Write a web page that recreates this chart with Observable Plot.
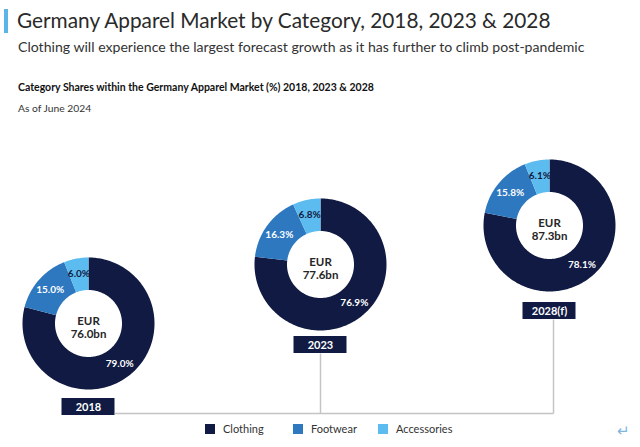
<!DOCTYPE html>
<html><head><meta charset="utf-8">
<script src="https://cdn.jsdelivr.net/npm/d3@7"></script>
<script src="https://cdn.jsdelivr.net/npm/@observablehq/plot@0.6"></script>
<style>
body{margin:0;background:#fff;font-family:Lato,"Open Sans",sans-serif;width:640px;height:447px;overflow:hidden;position:relative;color:#262626}
.abs{position:absolute;white-space:nowrap}
#bar{left:4px;top:9px;width:4px;height:24px;background:#5bb5e8}
#title{left:17px;top:5px;font-size:20.8px;line-height:30px;color:#2a2a2a}
#subtitle{left:18px;top:37px;font-size:14.1px;line-height:20px;color:#333}
#cap1{left:18px;top:79px;font-size:10.5px;font-weight:bold;line-height:16px;color:#111}
#cap2{left:18px;top:100px;font-size:10.3px;line-height:16px;color:#333}
#chart{left:0;top:150px}
#legend{left:0;top:421px;width:640px;height:16px;font-size:11px;color:#333}
.sw{position:absolute;top:3px;width:10px;height:10px}
.lt{position:absolute;top:0;line-height:16px}
#ret{left:617px;top:421px;font-size:15px;color:#7fb6e0}
</style></head><body>
<div class="abs" id="bar"></div>
<div class="abs" id="title">Germany Apparel Market by Category, 2018, 2023 &amp; 2028</div>
<div class="abs" id="subtitle">Clothing will experience the largest forecast growth as it has further to climb post-pandemic</div>
<div class="abs" id="cap1">Category Shares within the Germany Apparel Market (%) 2018, 2023 &amp; 2028</div>
<div class="abs" id="cap2">As of June 2024</div>
<div class="abs" id="chart"></div>
<div class="abs" id="legend"></div>
<div class="abs" id="ret">↵</div>
<script>
// ---- data ----
const years = ["2018", "2023", "2028(f)"];
const totals = ["76.0", "77.6", "87.3"]; // EUR bn
const categories = ["Clothing", "Footwear", "Accessories"];
const clothing = [79.0, 76.9, 78.1];
const footwear = [15.0, 16.3, 15.8];
const accessories = [6.0, 6.8, 6.1];

// ---- styles / layout ----
const colors = ["#101a42", "#2e78c0", "#5cbcf0"];
const W = 640, H = 270;
const layout = [
  {cx: 88, cy: 173, box: 248},
  {cx: 320, cy: 114, box: 186},
  {cx: 549, cy: 75, box: 152}
];
const R = 66, r0 = 33.5, rLab = 51, boxW = 53, boxH = 17;
const lineY = 263;

const series = [clothing, footwear, accessories];
const pie = d3.pie().sort(null).startAngle(0).endAngle(2 * Math.PI);

const slices = [];
const polys = [];
years.forEach((yr, i) => {
  const vals = categories.map((c, k) => ({cat: c, v: series[k][i]}));
  const arcs = pie.value(d => d.v)(vals);
  const {cx, cy} = layout[i];
  arcs.forEach(a => {
    const key = yr + "|" + a.data.cat;
    const n = Math.max(4, Math.ceil((a.endAngle - a.startAngle) / 0.02));
    const pts = [];
    for (let j = 0; j <= n; j++) {
      const t = a.startAngle + (a.endAngle - a.startAngle) * j / n;
      pts.push({x: cx + R * Math.sin(t), y: cy - R * Math.cos(t)});
    }
    for (let j = n; j >= 0; j--) {
      const t = a.startAngle + (a.endAngle - a.startAngle) * j / n;
      pts.push({x: cx + r0 * Math.sin(t), y: cy - r0 * Math.cos(t)});
    }
    pts.forEach(p => polys.push({...p, key, cat: a.data.cat}));
    const m = (a.startAngle + a.endAngle) / 2;
    slices.push({
      cat: a.data.cat, v: a.data.v,
      x: cx + rLab * Math.sin(m), y: cy - rLab * Math.cos(m)
    });
  });
});

const centers = years.map((yr, i) => ({
  year: yr, total: totals[i], x: layout[i].cx, y: layout[i].cy, box: layout[i].box
}));

const links = [
  {x1: layout[0].cx + boxW / 2, y1: lineY, x2: layout[2].cx + 4, y2: lineY},
  {x1: layout[1].cx, y1: layout[1].box + boxH, x2: layout[1].cx, y2: lineY},
  {x1: layout[2].cx + 4, y1: layout[2].box + boxH, x2: layout[2].cx + 4, y2: lineY}
];

const fontFam = "Lato, 'Open Sans', sans-serif";
const chart = Plot.plot({
  width: W, height: H,
  margin: 0,
  x: {domain: [0, W], range: [0, W], axis: null},
  y: {domain: [0, H], range: [0, H], axis: null},
  color: {domain: categories, range: colors},
  style: {fontFamily: fontFam, background: "transparent"},
  marks: [
    Plot.link(links, {x1: "x1", y1: "y1", x2: "x2", y2: "y2", stroke: "#c4c4c4", strokeWidth: 1.5}),
    Plot.line(polys, {x: "x", y: "y", z: "key", fill: "cat", stroke: null, curve: "linear-closed"}),
    Plot.text(slices.filter(d => d.cat !== "Accessories"), {
      x: "x", y: "y", text: d => d.v.toFixed(1) + "%", fill: "white",
      fontSize: 10, fontWeight: "bold"
    }),
    Plot.text(slices.filter(d => d.cat === "Accessories"), {
      x: "x", y: "y", text: d => d.v.toFixed(1) + "%", fill: colors[0],
      fontSize: 10, fontWeight: "bold"
    }),
    Plot.text(centers, {
      x: "x", y: d => d.y + 4, text: d => "EUR\n" + d.total + "bn",
      fill: "#262626", fontSize: 11.5, fontWeight: "bold", lineHeight: 1.1
    }),
    Plot.rect(centers, {
      x1: d => d.x - boxW / 2, x2: d => d.x + boxW / 2,
      y1: "box", y2: d => d.box + boxH, fill: colors[0]
    }),
    Plot.text(centers, {
      x: "x", y: d => d.box + boxH / 2, text: "year",
      fill: "white", fontSize: 11, fontWeight: "bold"
    })
  ]
});
document.getElementById("chart").appendChild(chart);

// legend
const legendPos = [205, 293, 378];
const lg = document.getElementById("legend");
categories.forEach((c, k) => {
  const sw = document.createElement("div");
  sw.className = "sw"; sw.style.left = legendPos[k] + "px"; sw.style.background = colors[k];
  const t = document.createElement("div");
  t.className = "lt"; t.style.left = (legendPos[k] + 18) + "px"; t.textContent = c;
  lg.appendChild(sw); lg.appendChild(t);
});
</script>
</body></html>
